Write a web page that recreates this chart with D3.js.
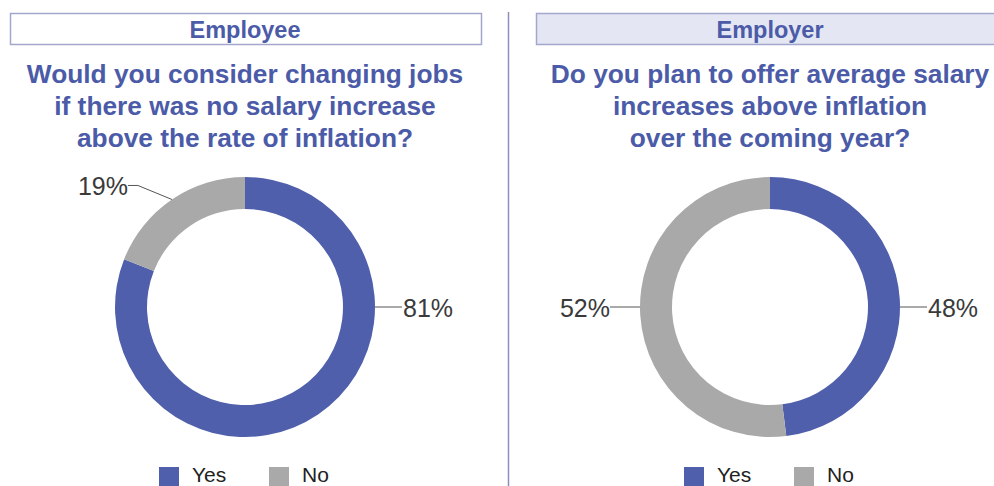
<!DOCTYPE html>
<html>
<head>
<meta charset="utf-8">
<script src="https://cdn.jsdelivr.net/npm/d3@7"></script>
<style>
  html, body { margin: 0; padding: 0; background: #fff; }
  svg { display: block; }
</style>
</head>
<body>
<svg id="chart" width="994" height="486"></svg>
<script>
// Survey answers
const categories = ["Yes", "No"];
const employeeValues = [81, 19];
const employerValues = [48, 52];
const panelHeaders = ["Employee", "Employer"];
const employeeQuestion = [
  "Would you consider changing jobs",
  "if there was no salary increase",
  "above the rate of inflation?"
];
const employerQuestion = [
  "Do you plan to offer average salary",
  "increases above inflation",
  "over the coming year?"
];

const W = 994, H = 486;
const svg = d3.select("#chart");

const titleColor = "#4b5ba8";
const color = d3.scaleOrdinal().domain(categories).range(["#4f5fab", "#a9a9a9"]);
const labelFont = "'Liberation Sans', Arial, sans-serif";

const panels = [
  { header: panelHeaders[0], question: employeeQuestion, values: employeeValues,
    cx: 245, boxX0: 10, boxX1: 481, boxFill: "#ffffff" },
  { header: panelHeaders[1], question: employerQuestion, values: employerValues,
    cx: 770, boxX0: 536, boxX1: 1000, boxFill: "#e4e6f3" }
];

const cy = 307;
const outerR = 130, innerR = 98;

// divider between the two panels
svg.append("line")
  .attr("x1", 508.5).attr("x2", 508.5)
  .attr("y1", 12).attr("y2", H)
  .attr("stroke", "#8a91b8").attr("stroke-width", 1.5);

const pie = d3.pie().sort(null).value(d => d.value);
const arc = d3.arc().innerRadius(innerR).outerRadius(outerR);

panels.forEach(p => {
  const g = svg.append("g");

  // header box
  g.append("rect")
    .attr("x", p.boxX0 + 0.5).attr("y", 13.5)
    .attr("width", p.boxX1 - p.boxX0).attr("height", 31)
    .attr("fill", p.boxFill)
    .attr("stroke", "#a3a7cc").attr("stroke-width", 1.5);

  g.append("text")
    .attr("x", p.cx).attr("y", 37.5)
    .attr("text-anchor", "middle")
    .attr("font-family", labelFont)
    .attr("font-weight", "bold")
    .attr("font-size", 23.5)
    .attr("fill", titleColor)
    .text(p.header);

  // question
  g.append("text")
    .attr("text-anchor", "middle")
    .attr("font-family", labelFont)
    .attr("font-weight", "bold")
    .attr("font-size", 26.3)
    .attr("fill", titleColor)
    .selectAll("tspan")
    .data(p.question)
    .join("tspan")
    .attr("x", p.cx)
    .attr("y", (d, i) => 83 + i * 32)
    .text(d => d);

  // donut
  const data = categories.map((c, i) => ({ key: c, value: p.values[i] }));
  const arcs = pie(data);
  const donut = g.append("g").attr("transform", `translate(${p.cx},${cy})`);

  donut.selectAll("path")
    .data(arcs)
    .join("path")
    .attr("d", arc)
    .attr("fill", d => color(d.data.key));

  // value labels with leader lines
  arcs.forEach(a => {
    const mid = (a.startAngle + a.endAngle) / 2;
    const rightSide = Math.sin(mid) >= 0;
    const horiz = rightSide ? Math.PI / 2 : 3 * Math.PI / 2;
    const lbl = donut.append("g");
    let textX, anchor, lineY;
    if (horiz >= a.startAngle && horiz <= a.endAngle) {
      // straight horizontal leader from the ring's side
      const sx = rightSide ? outerR : -outerR;
      const ex = rightSide ? outerR + 27 : -outerR - 30;
      lineY = 0;
      lbl.append("line")
        .attr("x1", sx).attr("y1", 0).attr("x2", ex).attr("y2", 0)
        .attr("stroke", "#555").attr("stroke-width", 1);
      textX = rightSide ? ex + 1 : ex;
      anchor = rightSide ? "start" : "end";
    } else {
      // angled leader from the slice midpoint, then horizontal
      const [ax, ay] = [outerR * Math.sin(mid), -outerR * Math.cos(mid)];
      const dir = rightSide ? 1 : -1;
      const ex = ax + dir * 34, ey = ay - 14;
      const hx = ex + dir * 10;
      lineY = ey;
      lbl.append("polyline")
        .attr("points", `${ax},${ay} ${ex},${ey} ${hx},${ey}`)
        .attr("fill", "none")
        .attr("stroke", "#555").attr("stroke-width", 1);
      textX = hx;
      anchor = rightSide ? "start" : "end";
    }
    lbl.append("text")
      .attr("x", textX).attr("y", lineY + 10)
      .attr("text-anchor", anchor)
      .attr("font-family", labelFont)
      .attr("font-size", 25)
      .attr("fill", "#3a3a3a")
      .text(a.data.value + "%");
  });

  // legend
  const legend = g.append("g").attr("transform", `translate(${p.cx - 86},0)`);
  const offs = [0, 110];
  categories.forEach((c, i) => {
    legend.append("rect")
      .attr("x", offs[i]).attr("y", 467)
      .attr("width", 20).attr("height", 20)
      .attr("fill", color(c));
    legend.append("text")
      .attr("x", offs[i] + 33).attr("y", 482)
      .attr("font-family", labelFont)
      .attr("font-size", 21)
      .attr("fill", "#222")
      .text(c);
  });
});
</script>
</body>
</html>
